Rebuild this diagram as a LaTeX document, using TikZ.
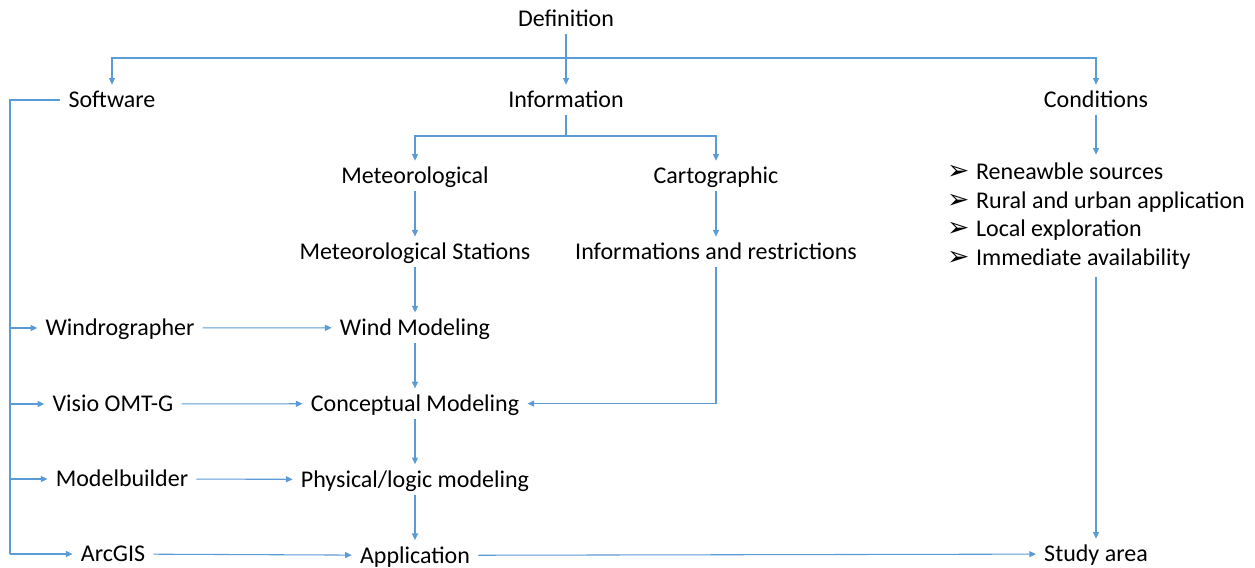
\documentclass[tikz,border=0pt]{standalone}
\usepackage{fontspec}
\setmainfont{Carlito}
\newfontfamily\symfont{DejaVu Sans}
\usetikzlibrary{arrows.meta, positioning}
\definecolor{lineblue}{HTML}{5B9BD5}
\tikzstyle{item} = [inner xsep=6pt, inner ysep=4pt, text height=13pt, text depth=1.5pt, font=\fontsize{18}{21.4}\selectfont]
\tikzstyle{listing} = [inner xsep=2pt, inner ysep=6pt, align=left, font=\fontsize{18}{21.4}\selectfont]
\tikzstyle{line} = [draw=lineblue, line width=0.8pt]
\tikzstyle{arrow} = [line, -{Triangle[length=5pt,width=4.5pt]}]
\newcommand{\bul}{{\symfont\fontsize{20}{21.4}\selectfont ➢}\hspace{5pt}}

\begin{document}
\begin{tikzpicture}[x=0.75pt, y=-0.75pt, node distance=2cm]
\useasboundingbox (0,0) rectangle (1255,567);
\node (def) [item] at (566,19) {Definition};
\node (soft) [item] at (112,100) {Software};
\node (info) [item] at (566,100) {Information};
\node (cond) [item] at (1096,100) {Conditions};

\node (met) [item] at (415,176) {Meteorological};
\node (carto) [item] at (716,176) {Cartographic};
\node (metst) [item, below of=met] {Meteorological Stations};
\node (restr) [item, below of=carto] {Informations and restrictions};
\node (wind) [item, below of=metst] {Wind Modeling};
\node (concept) [item, below of=wind] {Conceptual Modeling};
\node (phys) [item, below of=concept] {Physical/logic modeling};
\node (app) [item, below of=phys] {Application};

\node (windr) [item] at (120,328) {Windrographer};
\node (visio) [item] at (113,404) {Visio OMT-G};
\node (model) [item] at (122,479) {Modelbuilder};
\node (arcgis) [item] at (113,554) {ArcGIS};

\node (list) [listing] at (1096,216) {\bul Reneawble sources\\ \bul Rural and urban application\\ \bul Local exploration\\ \bul Immediate availability};
\node (study) [item] at (1096,554) {Study area};

\coordinate (top) at (566,58);
\coordinate (split) at (566,136);
\coordinate (bus) at (10,100);

\draw [line] (def) -- (top);
\draw [arrow] (top) -- (info);
\draw [arrow] (top) -| (soft);
\draw [arrow] (top) -| (cond);

\draw [line] (info) -- (split);
\draw [arrow] (split) -| (met);
\draw [arrow] (split) -| (carto);
\draw [arrow] (met) -- (metst);
\draw [arrow] (carto) -- (restr);
\draw [arrow] (metst) -- (wind);
\draw [arrow] (wind) -- (concept);
\draw [arrow] (concept) -- (phys);
\draw [arrow] (phys) -- (app);
\draw [arrow] (restr) |- (concept);

% software branch
\draw [line] (soft) -- (bus) -- (bus |- arcgis);
\draw [arrow] (bus |- windr) -- (windr);
\draw [arrow] (bus |- visio) -- (visio);
\draw [arrow] (bus |- model) -- (model);
\draw [arrow] (bus |- arcgis) -- (arcgis);
\draw [arrow] (windr) -- (wind);
\draw [arrow] (visio) -- (concept);
\draw [arrow] (model) -- (phys);
\draw [arrow] (arcgis) -- (app);

\draw [arrow] (app) -- (study);
\draw [arrow] (cond) -- (list);
\draw [arrow] (list) -- (study);
\end{tikzpicture}
\end{document}
